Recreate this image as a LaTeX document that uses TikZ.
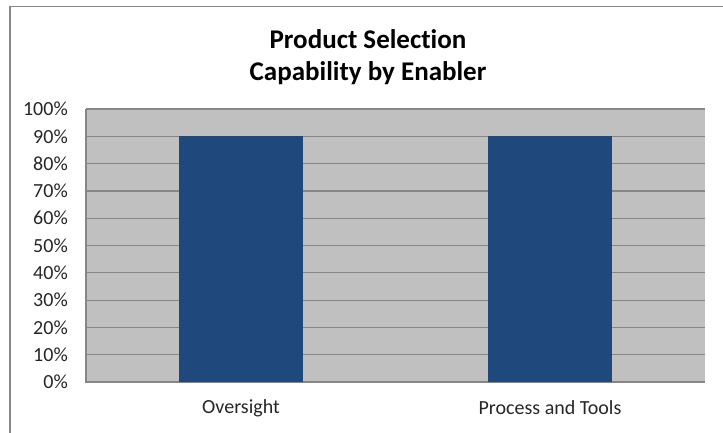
\documentclass[tikz,border=0pt]{standalone}
\usepackage{fontspec}
\setmainfont[Ligatures=NoCommon]{Carlito}
\definecolor{plotbg}{HTML}{C0C0C0}
\definecolor{barblue}{HTML}{1F497D}
\definecolor{gridgray}{HTML}{868686}
\definecolor{txtgray}{HTML}{262626}
\begin{document}
\begin{tikzpicture}[x=1pt,y=-1pt,
  ticklabel/.style={anchor=east,inner sep=0pt,font=\fontsize{20}{22}\selectfont,text=txtgray},
  catlabel/.style={anchor=center,inner sep=0pt,font=\fontsize{20}{22}\selectfont,text=txtgray},
  titletext/.style={anchor=center,inner sep=0pt,font=\bfseries\fontsize{27}{32}\selectfont,align=center},
  bar/.style={fill=barblue,draw=none},
  gridline/.style={draw=gridgray,line width=1.2pt}]
\useasboundingbox (0,0) rectangle (723,433);
% outer frame
\draw[gridgray,line width=1.5pt] (10,440) -- (10,6.5) -- (730,6.5);
% plot area
\fill[plotbg] (86,109) rectangle (705,382);
\foreach \i in {1,...,10} {
  \draw[gridline] (86,{382-27.3*\i}) -- (705,{382-27.3*\i});
}
\draw[gridline] (86,109) -- (86,382) -- (705,382);
% bars
\path[bar] (179,{382-27.3*9}) rectangle (303,382);
\path[bar] (488,{382-27.3*9}) rectangle (612,382);
% tick labels
\foreach \i in {0,...,10} {
  \node[ticklabel] (t\i) at (68,{382-27.3*\i}) {\the\numexpr\i*10\relax\%};
}
% category labels
\node[catlabel] (c1) at (241,408) {Oversight};
\node[catlabel] (c2) at (550,408) {Process and Tools};
% title
\node[titletext] (title) at (368,57) {Product Selection\\Capability by Enabler};
\end{tikzpicture}
\end{document}
